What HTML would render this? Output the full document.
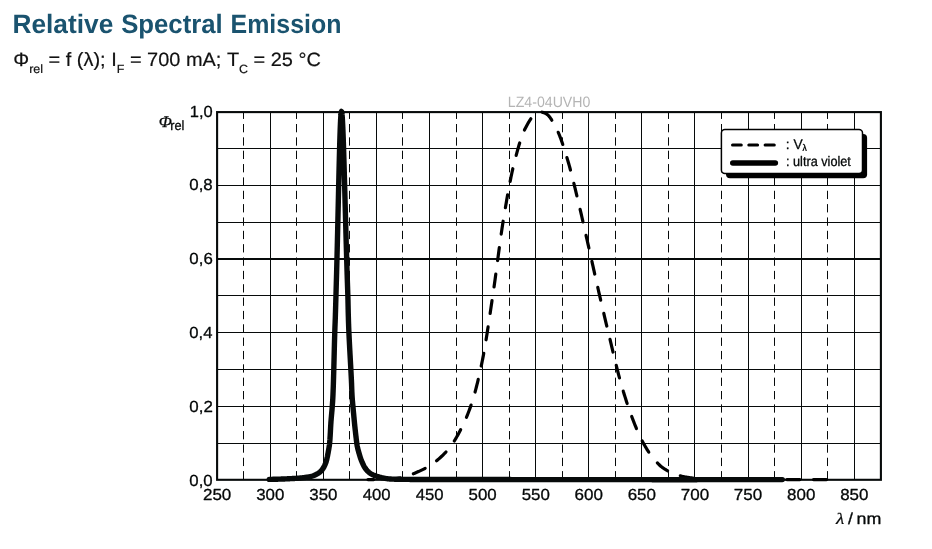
<!DOCTYPE html>
<html><head><meta charset="utf-8"><title>Relative Spectral Emission</title>
<style>
html,body{margin:0;padding:0;background:#fff;}
body{width:932px;height:549px;overflow:hidden;font-family:"Liberation Sans",sans-serif;}
svg{display:block;position:absolute;left:0;top:0;will-change:transform;}
</style></head><body>
<svg width="932" height="549" viewBox="0 0 932 549">
<g stroke="#070a0a" stroke-width="1" fill="none"><line x1="217.2" x2="880.85" y1="443.5" y2="443.5"/>
<line x1="217.2" x2="880.85" y1="406.5" y2="406.5"/>
<line x1="217.2" x2="880.85" y1="369.5" y2="369.5"/>
<line x1="217.2" x2="880.85" y1="332.5" y2="332.5"/>
<line x1="217.2" x2="880.85" y1="295.5" y2="295.5"/>
<line x1="217.2" x2="880.85" y1="259.0" y2="259.0" stroke-width="2"/>
<line x1="217.2" x2="880.85" y1="222.5" y2="222.5"/>
<line x1="217.2" x2="880.85" y1="185.5" y2="185.5"/>
<line x1="217.2" x2="880.85" y1="148.5" y2="148.5"/>
<line x1="243.5" x2="243.5" y1="112.1" y2="479.8" stroke-dasharray="8.3 5.05" stroke-dashoffset="1.45"/>
<line x1="270.5" x2="270.5" y1="112.1" y2="479.8"/>
<line x1="296.5" x2="296.5" y1="112.1" y2="479.8" stroke-dasharray="8.3 5.05" stroke-dashoffset="1.45"/>
<line x1="323.5" x2="323.5" y1="112.1" y2="479.8"/>
<line x1="349.5" x2="349.5" y1="112.1" y2="479.8" stroke-dasharray="8.3 5.05" stroke-dashoffset="1.45"/>
<line x1="376.5" x2="376.5" y1="112.1" y2="479.8"/>
<line x1="402.5" x2="402.5" y1="112.1" y2="479.8" stroke-dasharray="8.3 5.05" stroke-dashoffset="1.45"/>
<line x1="429.5" x2="429.5" y1="112.1" y2="479.8"/>
<line x1="456.5" x2="456.5" y1="112.1" y2="479.8" stroke-dasharray="8.3 5.05" stroke-dashoffset="1.45"/>
<line x1="482.5" x2="482.5" y1="112.1" y2="479.8"/>
<line x1="509.5" x2="509.5" y1="112.1" y2="479.8" stroke-dasharray="8.3 5.05" stroke-dashoffset="1.45"/>
<line x1="535.5" x2="535.5" y1="112.1" y2="479.8"/>
<line x1="562.5" x2="562.5" y1="112.1" y2="479.8" stroke-dasharray="8.3 5.05" stroke-dashoffset="1.45"/>
<line x1="588.5" x2="588.5" y1="112.1" y2="479.8"/>
<line x1="615.5" x2="615.5" y1="112.1" y2="479.8" stroke-dasharray="8.3 5.05" stroke-dashoffset="1.45"/>
<line x1="641.5" x2="641.5" y1="112.1" y2="479.8"/>
<line x1="668.5" x2="668.5" y1="112.1" y2="479.8" stroke-dasharray="8.3 5.05" stroke-dashoffset="1.45"/>
<line x1="694.5" x2="694.5" y1="112.1" y2="479.8"/>
<line x1="721.5" x2="721.5" y1="112.1" y2="479.8" stroke-dasharray="8.3 5.05" stroke-dashoffset="1.45"/>
<line x1="748.5" x2="748.5" y1="112.1" y2="479.8"/>
<line x1="774.5" x2="774.5" y1="112.1" y2="479.8" stroke-dasharray="8.3 5.05" stroke-dashoffset="1.45"/>
<line x1="801.5" x2="801.5" y1="112.1" y2="479.8"/>
<line x1="827.5" x2="827.5" y1="112.1" y2="479.8" stroke-dasharray="8.3 5.05" stroke-dashoffset="1.45"/>
<line x1="854.5" x2="854.5" y1="112.1" y2="479.8"/>
<rect x="217.1" y="112.1" width="663.8000000000001" height="367.70000000000005" fill="none" stroke-width="2.1"/></g>
<g fill="none" stroke="#000" stroke-width="3.2" stroke-linecap="round" stroke-linejoin="round"><path d="M367.98,479.60 L368.51,479.60 L369.04,479.60 L369.57,479.60 L370.10,479.60 L370.64,479.60 L371.17,479.60 L371.70,479.60 L372.23,479.60 L372.76,479.60 L373.29,479.60 L373.67,479.60"/><path d="M387.36,479.35 L387.63,479.33 L388.16,479.31 L388.69,479.28 L389.22,479.24 L389.75,479.20 L390.28,479.16 L390.81,479.12 L391.34,479.07 L391.87,479.03 L392.40,478.97 L392.93,478.92 L393.47,478.86 L394.00,478.81 L394.53,478.74 L395.06,478.68 L395.59,478.61 L396.12,478.55 L396.65,478.48 L397.18,478.40 L397.71,478.33 L398.24,478.25 L398.77,478.16 L399.31,478.06 L399.84,477.95 L400.27,477.86"/><path d="M413.32,473.74 L413.64,473.62 L414.17,473.40 L414.70,473.18 L415.23,472.96 L415.76,472.74 L416.30,472.51 L416.83,472.28 L417.36,472.05 L417.89,471.82 L418.42,471.58 L418.95,471.34 L419.48,471.10 L420.01,470.86 L420.54,470.62 L421.07,470.37 L421.60,470.12 L422.14,469.86 L422.67,469.61 L423.20,469.35 L423.73,469.08 L424.26,468.81 L424.79,468.54 L425.14,468.35"/><path d="M436.55,460.81 L436.98,460.46 L437.50,460.03 L438.03,459.58 L438.55,459.13 L439.07,458.67 L439.60,458.21 L440.12,457.74 L440.65,457.26 L441.17,456.78 L441.70,456.28 L442.22,455.78 L442.75,455.28 L443.27,454.76 L443.80,454.23 L444.32,453.69 L444.85,453.15 L445.37,452.59 L445.90,452.02 L446.00,451.90"/><path d="M454.28,441.01 L454.30,440.98 L454.83,440.13 L455.35,439.27 L455.88,438.39 L456.40,437.49 L456.93,436.57 L457.46,435.64 L457.98,434.69 L458.51,433.73 L459.03,432.75 L459.56,431.75 L460.09,430.75 L460.61,429.72 L460.64,429.67"/><path d="M466.45,417.27 L466.94,416.11 L467.46,414.82 L467.99,413.50 L468.52,412.15 L469.05,410.77 L469.57,409.35 L470.10,407.90 L470.63,406.41 L471.07,405.12"/><path d="M475.06,392.02 L475.38,390.82 L475.91,388.82 L476.44,386.77 L476.97,384.66 L477.50,382.51 L478.03,380.30 L478.24,379.41"/><path d="M481.22,366.04 L481.74,363.59 L482.26,361.03 L482.79,358.39 L483.32,355.64 L483.76,353.29"/><path d="M486.07,339.79 L486.51,337.10 L487.04,333.75 L487.57,330.34 L488.09,326.95"/><path d="M490.13,313.40 L490.23,312.73 L490.76,309.14 L491.29,305.55 L491.82,301.97 L492.03,300.54"/><path d="M494.03,286.99 L494.48,283.78 L495.01,279.93 L495.54,276.02 L495.80,274.11"/><path d="M497.61,260.53 L497.67,260.02 L498.21,256.00 L498.74,251.99 L499.27,248.01 L499.32,247.64"/><path d="M501.20,234.07 L501.41,232.63 L501.94,228.99 L502.47,225.45 L503.01,222.03 L503.14,221.21"/><path d="M505.39,207.70 L505.68,206.02 L506.21,202.91 L506.74,199.84 L507.28,196.81 L507.62,194.89"/><path d="M510.14,181.43 L510.49,179.69 L511.02,177.05 L511.56,174.48 L512.09,171.99 L512.63,169.57 L512.83,168.71"/><path d="M516.16,155.42 L516.37,154.60 L516.91,152.61 L517.45,150.65 L517.98,148.74 L518.52,146.87 L519.05,145.04 L519.59,143.27 L519.70,142.91"/><path d="M524.43,130.07 L524.95,129.01 L525.49,127.98 L526.03,126.95 L526.56,125.94 L527.10,124.95 L527.64,123.99 L528.17,123.04 L528.71,122.12 L529.25,121.24 L529.78,120.38 L530.32,119.56 L530.86,118.78 L530.86,118.78"/><path d="M542.12,112.20 L542.65,112.32 L543.18,112.48 L543.72,112.67 L544.25,112.89 L544.78,113.13 L545.31,113.39 L545.84,113.66 L546.37,113.94 L546.90,114.26 L547.43,114.65 L547.96,115.11 L548.49,115.63 L549.03,116.22 L549.56,116.87 L550.09,117.57 L550.62,118.32 L551.15,119.11 L551.68,119.95 L551.83,120.20"/><path d="M558.21,132.32 L558.58,133.16 L559.11,134.42 L559.64,135.74 L560.17,137.11 L560.71,138.53 L561.24,140.00 L561.77,141.50 L562.30,143.05 L562.78,144.48"/><path d="M566.89,157.55 L567.08,158.15 L567.61,159.90 L568.14,161.68 L568.67,163.50 L569.20,165.37 L569.73,167.29 L570.26,169.25 L570.47,170.05"/><path d="M573.84,183.33 L573.98,183.87 L574.51,186.05 L575.04,188.24 L575.57,190.44 L576.10,192.64 L576.63,194.85 L576.90,195.96"/><path d="M580.09,209.28 L580.35,210.38 L580.88,212.66 L581.41,214.96 L581.94,217.26 L582.47,219.59 L583.00,221.92 L583.01,221.95"/><path d="M586.03,235.32 L586.19,236.03 L586.72,238.39 L587.25,240.74 L587.78,243.10 L588.31,245.44 L588.84,247.78 L588.89,248.00"/><path d="M591.90,261.36 L592.03,261.92 L592.56,264.29 L593.09,266.66 L593.62,269.04 L594.15,271.41 L594.68,273.78 L594.74,274.05"/><path d="M597.76,287.41 L597.87,287.90 L598.40,290.23 L598.93,292.54 L599.46,294.85 L599.99,297.14 L600.52,299.43 L600.68,300.08"/><path d="M603.80,313.42 L604.24,315.31 L604.77,317.55 L605.30,319.79 L605.83,322.03 L606.36,324.26 L606.80,326.07"/><path d="M610.00,339.39 L610.08,339.71 L610.61,341.90 L611.14,344.11 L611.67,346.32 L612.20,348.55 L612.74,350.77 L613.03,352.03"/><path d="M616.25,365.35 L616.45,366.18 L616.98,368.31 L617.51,370.42 L618.04,372.50 L618.58,374.55 L619.11,376.57 L619.48,377.94"/><path d="M623.26,391.11 L623.35,391.44 L623.88,393.19 L624.42,394.93 L624.95,396.64 L625.48,398.33 L626.01,400.00 L626.54,401.65 L627.07,403.28 L627.15,403.51"/><path d="M631.69,416.44 L631.85,416.87 L632.38,418.28 L632.91,419.67 L633.44,421.05 L633.97,422.42 L634.50,423.77 L635.03,425.10 L635.56,426.42 L636.10,427.72 L636.44,428.54"/><path d="M642.20,440.96 L642.47,441.46 L643.00,442.45 L643.53,443.42 L644.06,444.38 L644.59,445.32 L645.12,446.25 L645.65,447.16 L646.18,448.06 L646.71,448.94 L647.25,449.80 L647.78,450.64 L648.31,451.47 L648.77,452.17"/><path d="M657.32,462.86 L657.33,462.88 L657.86,463.43 L658.39,463.97 L658.93,464.49 L659.46,465.00 L659.99,465.49 L660.52,465.96 L661.05,466.41 L661.58,466.85 L662.11,467.26 L662.64,467.66 L663.17,468.03 L663.70,468.39 L664.23,468.74 L664.77,469.08 L665.30,469.41 L665.83,469.73 L666.36,470.04 L666.89,470.34 L667.42,470.63 L667.59,470.72"/><path d="M680.29,475.78 L680.69,475.89 L681.22,476.04 L681.76,476.18 L682.29,476.32 L682.82,476.44 L683.35,476.56 L683.88,476.68 L684.41,476.78 L684.94,476.89 L685.47,476.98 L686.00,477.08 L686.53,477.17 L687.06,477.26 L687.60,477.35 L688.13,477.44 L688.66,477.52 L689.19,477.60 L689.72,477.67 L690.25,477.75 L690.78,477.82 L691.31,477.89 L691.84,477.95 L692.37,478.01 L692.90,478.07 L693.07,478.09"/><path d="M706.73,479.08 L707.24,479.10 L707.77,479.12 L708.30,479.15 L708.83,479.17 L709.36,479.19 L709.89,479.21 L710.42,479.23 L710.96,479.25 L711.49,479.27 L712.02,479.29 L712.55,479.31 L713.08,479.32 L713.61,479.34 L714.14,479.36 L714.67,479.37 L715.20,479.39 L715.73,479.40 L716.26,479.41 L716.80,479.43 L717.33,479.44 L717.86,479.45 L718.39,479.46 L718.92,479.47 L719.45,479.49 L719.73,479.49"/><path d="M733.43,479.60 L733.79,479.60 L734.32,479.60 L734.85,479.60 L735.38,479.60 L735.91,479.60 L736.44,479.60 L736.97,479.60 L737.50,479.60 L738.03,479.60 L738.56,479.60 L739.09,479.60 L739.63,479.60 L740.16,479.60 L740.69,479.60 L741.22,479.60 L741.75,479.60 L742.28,479.60 L742.81,479.60 L743.34,479.60 L743.87,479.60 L744.40,479.60 L744.93,479.60 L745.47,479.60 L746.00,479.60 L746.43,479.60"/><path d="M760.13,479.60 L760.33,479.60 L760.86,479.60 L761.39,479.60 L761.92,479.60 L762.45,479.60 L762.99,479.60 L763.52,479.60 L764.05,479.60 L764.58,479.60 L765.11,479.60 L765.64,479.60 L766.17,479.60 L766.70,479.60 L767.23,479.60 L767.76,479.60 L768.29,479.60 L768.83,479.60 L769.36,479.60 L769.89,479.60 L770.42,479.60 L770.95,479.60 L771.48,479.60 L772.01,479.60 L772.54,479.60 L773.07,479.60 L773.13,479.60"/><path d="M786.83,479.60 L786.88,479.60 L787.41,479.60 L787.94,479.60 L788.47,479.60 L789.00,479.60 L789.53,479.60 L790.06,479.60 L790.59,479.60 L791.12,479.60 L791.66,479.60 L792.19,479.60 L792.72,479.60 L793.25,479.60 L793.78,479.60 L794.31,479.60 L794.84,479.60 L795.37,479.60 L795.90,479.60 L796.43,479.60 L796.96,479.60 L797.50,479.60 L798.03,479.60 L798.56,479.60 L799.09,479.60 L799.62,479.60 L799.83,479.60"/><path d="M813.53,479.60 L813.95,479.60 L814.49,479.60 L815.02,479.60 L815.55,479.60 L816.08,479.60 L816.61,479.60 L817.14,479.60 L817.67,479.60 L818.20,479.60 L818.73,479.60 L819.26,479.60 L819.79,479.60 L820.33,479.60 L820.86,479.60 L821.39,479.60 L821.92,479.60 L822.45,479.60 L822.98,479.60 L823.51,479.60 L824.04,479.60 L824.57,479.60 L825.10,479.60 L825.63,479.60 L826.17,479.60 L826.53,479.60"/></g>
<path d="M269.30,479.40 L270.00,479.39 L270.70,479.37 L271.40,479.36 L272.10,479.34 L272.80,479.32 L273.50,479.30 L274.20,479.29 L274.90,479.27 L275.60,479.24 L276.30,479.22 L277.00,479.20 L277.69,479.18 L278.39,479.16 L279.09,479.13 L279.79,479.11 L280.49,479.09 L281.19,479.06 L281.89,479.04 L282.59,479.01 L283.29,478.99 L283.99,478.96 L284.69,478.94 L285.39,478.91 L286.09,478.88 L286.79,478.84 L287.48,478.81 L288.18,478.78 L288.88,478.74 L289.58,478.70 L290.28,478.66 L290.98,478.63 L291.68,478.59 L292.38,478.55 L293.08,478.51 L293.77,478.47 L294.47,478.43 L295.17,478.39 L295.87,478.35 L296.57,478.31 L297.27,478.27 L297.97,478.22 L298.66,478.17 L299.36,478.11 L300.06,478.05 L300.75,477.98 L301.45,477.91 L302.14,477.83 L302.84,477.75 L303.53,477.67 L304.23,477.58 L304.92,477.49 L305.61,477.39 L306.31,477.29 L307.00,477.19 L307.69,477.09 L308.39,476.98 L309.08,476.87 L309.77,476.75 L310.46,476.61 L311.13,476.44 L311.80,476.25 L312.46,476.03 L313.12,475.79 L313.77,475.53 L314.41,475.25 L315.06,474.96 L315.70,474.65 L316.34,474.33 L316.98,474.00 L317.60,473.66 L318.20,473.29 L318.78,472.91 L319.34,472.51 L319.89,472.07 L320.42,471.62 L320.93,471.13 L321.42,470.61 L321.89,470.06 L322.33,469.50 L322.75,468.93 L323.14,468.35 L323.51,467.76 L323.85,467.16 L324.17,466.54 L324.48,465.91 L324.76,465.26 L325.03,464.61 L325.30,463.96 L325.56,463.31 L325.81,462.66 L326.04,462.00 L326.25,461.33 L326.43,460.66 L326.60,459.98 L326.77,459.30 L326.93,458.62 L327.08,457.93 L327.24,457.25 L327.38,456.57 L327.53,455.88 L327.66,455.20 L327.79,454.51 L327.92,453.82 L328.05,453.13 L328.18,452.45 L328.30,451.76 L328.43,451.07 L328.55,450.38 L328.67,449.69 L328.79,449.00 L328.90,448.31 L329.02,447.62 L329.13,446.93 L329.24,446.24 L329.34,445.54 L329.44,444.85 L329.52,444.16 L329.59,443.46 L329.66,442.76 L329.72,442.07 L329.78,441.37 L329.84,440.67 L329.89,439.97 L329.95,439.27 L329.99,438.58 L330.04,437.88 L330.09,437.18 L330.13,436.48 L330.17,435.78 L330.21,435.08 L330.25,434.39 L330.29,433.69 L330.33,432.99 L330.37,432.29 L330.40,431.59 L330.44,430.89 L330.47,430.19 L330.51,429.49 L330.55,428.79 L330.58,428.10 L330.62,427.40 L330.66,426.70 L330.70,426.00 L330.74,425.30 L330.78,424.60 L330.82,423.90 L330.87,423.21 L330.91,422.51 L330.96,421.81 L331.01,421.11 L331.07,420.41 L331.12,419.72 L331.18,419.02 L331.24,418.32 L331.30,417.62 L331.36,416.93 L331.42,416.23 L331.48,415.53 L331.55,414.84 L331.61,414.14 L331.67,413.44 L331.73,412.74 L331.80,412.05 L331.86,411.35 L331.92,410.65 L331.98,409.96 L332.04,409.26 L332.10,408.56 L332.15,407.86 L332.21,407.17 L332.26,406.47 L332.32,405.77 L332.37,405.07 L332.42,404.37 L332.47,403.68 L332.52,402.98 L332.57,402.28 L332.61,401.58 L332.66,400.88 L332.70,400.19 L332.74,399.49 L332.78,398.79 L332.82,398.09 L332.85,397.39 L332.89,396.69 L332.92,395.99 L332.95,395.29 L332.98,394.59 L333.01,393.89 L333.04,393.20 L333.06,392.50 L333.09,391.80 L333.12,391.10 L333.15,390.40 L333.17,389.70 L333.20,389.00 L333.23,388.30 L333.25,387.60 L333.28,386.90 L333.30,386.20 L333.32,385.50 L333.35,384.80 L333.37,384.10 L333.39,383.40 L333.42,382.71 L333.44,382.01 L333.46,381.31 L333.48,380.61 L333.50,379.91 L333.52,379.21 L333.54,378.51 L333.56,377.81 L333.58,377.11 L333.60,376.41 L333.62,375.71 L333.64,375.01 L333.66,374.31 L333.68,373.61 L333.70,372.91 L333.72,372.21 L333.74,371.51 L333.76,370.81 L333.78,370.11 L333.79,369.41 L333.81,368.71 L333.83,368.01 L333.85,367.32 L333.87,366.62 L333.88,365.92 L333.90,365.22 L333.92,364.52 L333.94,363.82 L333.96,363.12 L333.97,362.42 L333.99,361.72 L334.01,361.02 L334.03,360.32 L334.04,359.62 L334.06,358.92 L334.08,358.22 L334.10,357.52 L334.11,356.82 L334.13,356.12 L334.15,355.42 L334.17,354.72 L334.18,354.02 L334.20,353.32 L334.22,352.62 L334.24,351.92 L334.25,351.22 L334.27,350.53 L334.29,349.83 L334.31,349.13 L334.32,348.43 L334.34,347.73 L334.36,347.03 L334.38,346.33 L334.40,345.63 L334.42,344.93 L334.43,344.23 L334.45,343.53 L334.47,342.83 L334.49,342.13 L334.51,341.43 L334.53,340.73 L334.55,340.03 L334.57,339.33 L334.59,338.63 L334.61,337.93 L334.63,337.23 L334.65,336.53 L334.67,335.83 L334.69,335.14 L334.71,334.44 L334.73,333.74 L334.75,333.04 L334.78,332.34 L334.80,331.64 L334.82,330.94 L334.84,330.24 L334.87,329.54 L334.89,328.84 L334.91,328.14 L334.94,327.44 L334.97,326.74 L334.99,326.04 L335.02,325.34 L335.05,324.64 L335.07,323.95 L335.10,323.25 L335.13,322.55 L335.16,321.85 L335.18,321.15 L335.21,320.45 L335.24,319.75 L335.26,319.05 L335.29,318.35 L335.32,317.65 L335.34,316.95 L335.36,316.25 L335.38,315.55 L335.40,314.85 L335.42,314.15 L335.44,313.45 L335.46,312.76 L335.49,312.06 L335.51,311.36 L335.53,310.66 L335.55,309.96 L335.57,309.26 L335.59,308.56 L335.61,307.86 L335.63,307.16 L335.65,306.46 L335.67,305.76 L335.69,305.06 L335.71,304.36 L335.73,303.66 L335.75,302.96 L335.77,302.26 L335.79,301.56 L335.81,300.86 L335.83,300.16 L335.85,299.46 L335.87,298.76 L335.89,298.07 L335.91,297.37 L335.93,296.67 L335.95,295.97 L335.97,295.27 L335.99,294.57 L336.01,293.87 L336.03,293.17 L336.05,292.47 L336.07,291.77 L336.09,291.07 L336.11,290.37 L336.13,289.67 L336.15,288.97 L336.17,288.27 L336.19,287.57 L336.21,286.87 L336.23,286.17 L336.25,285.47 L336.27,284.77 L336.29,284.07 L336.31,283.38 L336.33,282.68 L336.35,281.98 L336.37,281.28 L336.39,280.58 L336.41,279.88 L336.43,279.18 L336.45,278.48 L336.47,277.78 L336.49,277.08 L336.51,276.38 L336.53,275.68 L336.55,274.98 L336.57,274.28 L336.59,273.58 L336.61,272.88 L336.63,272.18 L336.64,271.48 L336.66,270.78 L336.68,270.08 L336.70,269.38 L336.72,268.69 L336.74,267.99 L336.75,267.29 L336.77,266.59 L336.79,265.89 L336.81,265.19 L336.83,264.49 L336.84,263.79 L336.86,263.09 L336.88,262.39 L336.90,261.69 L336.91,260.99 L336.93,260.29 L336.95,259.59 L336.97,258.89 L336.98,258.19 L337.00,257.49 L337.02,256.79 L337.04,256.09 L337.05,255.39 L337.07,254.69 L337.09,253.99 L337.11,253.29 L337.12,252.59 L337.14,251.90 L337.16,251.20 L337.18,250.50 L337.19,249.80 L337.21,249.10 L337.23,248.40 L337.24,247.70 L337.26,247.00 L337.28,246.30 L337.30,245.60 L337.31,244.90 L337.33,244.20 L337.35,243.50 L337.36,242.80 L337.38,242.10 L337.40,241.40 L337.41,240.70 L337.43,240.00 L337.45,239.30 L337.46,238.60 L337.48,237.90 L337.50,237.20 L337.51,236.50 L337.53,235.80 L337.55,235.10 L337.56,234.40 L337.58,233.71 L337.60,233.01 L337.61,232.31 L337.63,231.61 L337.64,230.91 L337.66,230.21 L337.68,229.51 L337.69,228.81 L337.71,228.11 L337.73,227.41 L337.74,226.71 L337.76,226.01 L337.77,225.31 L337.79,224.61 L337.81,223.91 L337.82,223.21 L337.84,222.51 L337.85,221.81 L337.87,221.11 L337.89,220.41 L337.90,219.71 L337.92,219.01 L337.93,218.31 L337.95,217.61 L337.97,216.91 L337.98,216.21 L338.00,215.52 L338.01,214.82 L338.03,214.12 L338.05,213.42 L338.06,212.72 L338.08,212.02 L338.09,211.32 L338.11,210.62 L338.13,209.92 L338.14,209.22 L338.16,208.52 L338.17,207.82 L338.19,207.12 L338.21,206.42 L338.22,205.72 L338.24,205.02 L338.25,204.32 L338.27,203.62 L338.28,202.92 L338.30,202.22 L338.32,201.52 L338.33,200.82 L338.35,200.12 L338.36,199.42 L338.38,198.72 L338.40,198.02 L338.41,197.33 L338.43,196.63 L338.44,195.93 L338.46,195.23 L338.48,194.53 L338.49,193.83 L338.51,193.13 L338.52,192.43 L338.54,191.73 L338.56,191.03 L338.57,190.33 L338.59,189.63 L338.60,188.93 L338.62,188.23 L338.64,187.53 L338.65,186.83 L338.67,186.13 L338.68,185.43 L338.70,184.73 L338.72,184.03 L338.73,183.33 L338.75,182.63 L338.76,181.93 L338.78,181.23 L338.80,180.53 L338.81,179.83 L338.83,179.13 L338.85,178.44 L338.86,177.74 L338.88,177.04 L338.89,176.34 L338.91,175.64 L338.93,174.94 L338.94,174.24 L338.96,173.54 L338.98,172.84 L338.99,172.14 L339.01,171.44 L339.03,170.74 L339.04,170.04 L339.06,169.34 L339.08,168.64 L339.09,167.94 L339.11,167.24 L339.13,166.54 L339.15,165.84 L339.16,165.14 L339.18,164.44 L339.20,163.74 L339.22,163.04 L339.23,162.34 L339.25,161.64 L339.27,160.95 L339.29,160.25 L339.30,159.55 L339.32,158.85 L339.34,158.15 L339.36,157.45 L339.37,156.75 L339.39,156.05 L339.41,155.35 L339.43,154.65 L339.45,153.95 L339.47,153.25 L339.48,152.55 L339.50,151.85 L339.52,151.15 L339.54,150.45 L339.56,149.75 L339.58,149.05 L339.60,148.35 L339.62,147.65 L339.64,146.95 L339.66,146.25 L339.68,145.55 L339.70,144.86 L339.72,144.16 L339.74,143.46 L339.76,142.76 L339.78,142.06 L339.80,141.36 L339.82,140.66 L339.84,139.96 L339.86,139.26 L339.88,138.56 L339.91,137.86 L339.93,137.16 L339.95,136.46 L339.97,135.76 L340.00,135.06 L340.02,134.36 L340.04,133.66 L340.07,132.96 L340.09,132.27 L340.12,131.57 L340.14,130.87 L340.17,130.17 L340.19,129.47 L340.22,128.77 L340.24,128.07 L340.27,127.37 L340.30,126.67 L340.33,125.97 L340.36,125.27 L340.39,124.57 L340.42,123.87 L340.45,123.17 L340.48,122.48 L340.52,121.78 L340.55,121.08 L340.58,120.38 L340.62,119.68 L340.66,118.98 L340.70,118.28 L340.74,117.58 L340.79,116.89 L340.84,116.19 L340.88,115.49 L340.93,114.79 L340.96,114.09 L341.01,113.40 L341.13,112.70 L341.32,111.90 L341.51,111.40 L341.71,112.02 L341.90,112.80 L342.00,113.49 L342.06,114.19 L342.09,114.89 L342.14,115.58 L342.19,116.28 L342.24,116.98 L342.29,117.68 L342.34,118.38 L342.38,119.07 L342.42,119.77 L342.46,120.47 L342.50,121.17 L342.53,121.87 L342.57,122.57 L342.60,123.27 L342.64,123.97 L342.67,124.67 L342.71,125.36 L342.74,126.06 L342.77,126.76 L342.80,127.46 L342.83,128.16 L342.86,128.86 L342.89,129.56 L342.92,130.26 L342.95,130.96 L342.97,131.66 L343.00,132.36 L343.03,133.06 L343.05,133.76 L343.08,134.45 L343.11,135.15 L343.13,135.85 L343.16,136.55 L343.19,137.25 L343.21,137.95 L343.24,138.65 L343.26,139.35 L343.29,140.05 L343.31,140.75 L343.33,141.45 L343.36,142.15 L343.38,142.85 L343.40,143.55 L343.43,144.25 L343.45,144.95 L343.47,145.64 L343.50,146.34 L343.52,147.04 L343.54,147.74 L343.56,148.44 L343.59,149.14 L343.61,149.84 L343.63,150.54 L343.65,151.24 L343.67,151.94 L343.70,152.64 L343.72,153.34 L343.74,154.04 L343.76,154.74 L343.78,155.44 L343.80,156.14 L343.82,156.84 L343.84,157.54 L343.87,158.23 L343.89,158.93 L343.91,159.63 L343.93,160.33 L343.95,161.03 L343.97,161.73 L343.99,162.43 L344.01,163.13 L344.03,163.83 L344.05,164.53 L344.07,165.23 L344.09,165.93 L344.11,166.63 L344.13,167.33 L344.15,168.03 L344.17,168.73 L344.19,169.43 L344.21,170.13 L344.23,170.83 L344.25,171.53 L344.27,172.23 L344.29,172.92 L344.31,173.62 L344.33,174.32 L344.35,175.02 L344.37,175.72 L344.39,176.42 L344.41,177.12 L344.43,177.82 L344.45,178.52 L344.47,179.22 L344.49,179.92 L344.51,180.62 L344.52,181.32 L344.54,182.02 L344.56,182.72 L344.58,183.42 L344.60,184.12 L344.62,184.82 L344.64,185.52 L344.66,186.22 L344.68,186.92 L344.70,187.62 L344.72,188.31 L344.73,189.01 L344.75,189.71 L344.77,190.41 L344.79,191.11 L344.81,191.81 L344.83,192.51 L344.85,193.21 L344.87,193.91 L344.89,194.61 L344.90,195.31 L344.92,196.01 L344.94,196.71 L344.96,197.41 L344.98,198.11 L345.00,198.81 L345.02,199.51 L345.04,200.21 L345.06,200.91 L345.08,201.61 L345.09,202.31 L345.11,203.01 L345.13,203.70 L345.15,204.40 L345.17,205.10 L345.19,205.80 L345.21,206.50 L345.23,207.20 L345.25,207.90 L345.27,208.60 L345.28,209.30 L345.30,210.00 L345.32,210.70 L345.34,211.40 L345.36,212.10 L345.38,212.80 L345.40,213.50 L345.42,214.20 L345.44,214.90 L345.46,215.60 L345.47,216.30 L345.49,217.00 L345.51,217.70 L345.53,218.40 L345.55,219.09 L345.57,219.79 L345.59,220.49 L345.61,221.19 L345.63,221.89 L345.64,222.59 L345.66,223.29 L345.68,223.99 L345.70,224.69 L345.72,225.39 L345.74,226.09 L345.76,226.79 L345.78,227.49 L345.80,228.19 L345.82,228.89 L345.84,229.59 L345.86,230.29 L345.88,230.99 L345.89,231.69 L345.91,232.39 L345.93,233.09 L345.95,233.79 L345.97,234.48 L345.99,235.18 L346.01,235.88 L346.03,236.58 L346.05,237.28 L346.07,237.98 L346.09,238.68 L346.11,239.38 L346.13,240.08 L346.15,240.78 L346.17,241.48 L346.19,242.18 L346.21,242.88 L346.23,243.58 L346.25,244.28 L346.27,244.98 L346.29,245.68 L346.31,246.38 L346.33,247.08 L346.35,247.78 L346.37,248.48 L346.39,249.17 L346.41,249.87 L346.43,250.57 L346.45,251.27 L346.47,251.97 L346.49,252.67 L346.51,253.37 L346.53,254.07 L346.55,254.77 L346.57,255.47 L346.59,256.17 L346.61,256.87 L346.63,257.57 L346.65,258.27 L346.67,258.97 L346.70,259.67 L346.72,260.37 L346.74,261.07 L346.76,261.77 L346.78,262.47 L346.80,263.16 L346.82,263.86 L346.84,264.56 L346.86,265.26 L346.88,265.96 L346.91,266.66 L346.93,267.36 L346.95,268.06 L346.97,268.76 L346.99,269.46 L347.01,270.16 L347.04,270.86 L347.06,271.56 L347.08,272.26 L347.10,272.96 L347.12,273.66 L347.14,274.36 L347.17,275.06 L347.19,275.76 L347.21,276.45 L347.23,277.15 L347.25,277.85 L347.27,278.55 L347.30,279.25 L347.32,279.95 L347.34,280.65 L347.37,281.35 L347.39,282.05 L347.41,282.75 L347.44,283.45 L347.46,284.15 L347.48,284.85 L347.51,285.55 L347.53,286.25 L347.55,286.95 L347.58,287.65 L347.60,288.35 L347.63,289.04 L347.65,289.74 L347.67,290.44 L347.70,291.14 L347.72,291.84 L347.74,292.54 L347.76,293.24 L347.79,293.94 L347.81,294.64 L347.83,295.34 L347.85,296.04 L347.88,296.74 L347.90,297.44 L347.92,298.14 L347.93,298.84 L347.95,299.54 L347.97,300.24 L347.99,300.94 L348.00,301.64 L348.02,302.33 L348.03,303.03 L348.05,303.73 L348.06,304.43 L348.08,305.13 L348.09,305.83 L348.11,306.53 L348.12,307.23 L348.14,307.93 L348.15,308.63 L348.17,309.33 L348.18,310.03 L348.20,310.73 L348.21,311.43 L348.23,312.13 L348.24,312.83 L348.26,313.53 L348.28,314.23 L348.30,314.93 L348.32,315.63 L348.34,316.33 L348.36,317.03 L348.38,317.73 L348.40,318.43 L348.42,319.13 L348.44,319.83 L348.46,320.52 L348.48,321.22 L348.50,321.92 L348.52,322.62 L348.55,323.32 L348.57,324.02 L348.60,324.72 L348.62,325.42 L348.65,326.12 L348.67,326.82 L348.70,327.52 L348.73,328.22 L348.75,328.92 L348.78,329.62 L348.81,330.32 L348.84,331.01 L348.87,331.71 L348.91,332.41 L348.94,333.11 L348.97,333.81 L349.00,334.51 L349.03,335.21 L349.07,335.91 L349.10,336.61 L349.13,337.31 L349.17,338.01 L349.20,338.70 L349.24,339.40 L349.27,340.10 L349.31,340.80 L349.34,341.50 L349.38,342.20 L349.41,342.90 L349.45,343.60 L349.49,344.30 L349.52,344.99 L349.56,345.69 L349.60,346.39 L349.63,347.09 L349.67,347.79 L349.71,348.49 L349.74,349.19 L349.78,349.89 L349.82,350.59 L349.86,351.28 L349.90,351.98 L349.93,352.68 L349.97,353.38 L350.01,354.08 L350.05,354.78 L350.09,355.48 L350.13,356.18 L350.16,356.87 L350.20,357.57 L350.24,358.27 L350.28,358.97 L350.32,359.67 L350.36,360.37 L350.40,361.07 L350.43,361.77 L350.47,362.46 L350.51,363.16 L350.55,363.86 L350.59,364.56 L350.63,365.26 L350.67,365.96 L350.70,366.66 L350.74,367.36 L350.78,368.05 L350.82,368.75 L350.85,369.45 L350.89,370.15 L350.93,370.85 L350.97,371.55 L351.00,372.25 L351.04,372.95 L351.08,373.64 L351.11,374.34 L351.15,375.04 L351.19,375.74 L351.22,376.44 L351.26,377.14 L351.29,377.84 L351.33,378.54 L351.36,379.24 L351.40,379.93 L351.43,380.63 L351.46,381.33 L351.49,382.03 L351.52,382.73 L351.55,383.43 L351.58,384.13 L351.60,384.83 L351.63,385.53 L351.65,386.23 L351.68,386.93 L351.70,387.63 L351.73,388.33 L351.75,389.03 L351.78,389.72 L351.81,390.42 L351.83,391.12 L351.86,391.82 L351.89,392.52 L351.93,393.22 L351.96,393.92 L352.00,394.62 L352.04,395.32 L352.08,396.02 L352.12,396.71 L352.17,397.41 L352.22,398.11 L352.27,398.81 L352.33,399.51 L352.38,400.20 L352.44,400.90 L352.50,401.60 L352.56,402.29 L352.63,402.99 L352.69,403.69 L352.75,404.39 L352.82,405.08 L352.88,405.78 L352.94,406.48 L353.01,407.17 L353.07,407.87 L353.13,408.57 L353.20,409.26 L353.26,409.96 L353.33,410.66 L353.39,411.36 L353.45,412.05 L353.52,412.75 L353.58,413.45 L353.65,414.14 L353.71,414.84 L353.78,415.54 L353.85,416.23 L353.91,416.93 L353.98,417.63 L354.04,418.32 L354.11,419.02 L354.17,419.72 L354.24,420.41 L354.31,421.11 L354.37,421.81 L354.44,422.50 L354.51,423.20 L354.58,423.90 L354.65,424.59 L354.72,425.29 L354.79,425.98 L354.86,426.68 L354.94,427.38 L355.01,428.07 L355.08,428.77 L355.16,429.46 L355.24,430.16 L355.31,430.85 L355.39,431.55 L355.47,432.24 L355.55,432.94 L355.62,433.63 L355.70,434.33 L355.78,435.02 L355.87,435.72 L355.95,436.42 L356.03,437.11 L356.11,437.81 L356.20,438.50 L356.28,439.20 L356.36,439.89 L356.45,440.58 L356.53,441.28 L356.62,441.97 L356.71,442.67 L356.80,443.36 L356.89,444.06 L357.00,444.75 L357.11,445.44 L357.24,446.12 L357.38,446.81 L357.53,447.49 L357.69,448.17 L357.85,448.85 L358.02,449.53 L358.20,450.21 L358.38,450.88 L358.57,451.56 L358.76,452.24 L358.95,452.91 L359.15,453.59 L359.34,454.26 L359.54,454.94 L359.73,455.61 L359.93,456.29 L360.14,456.96 L360.36,457.62 L360.59,458.28 L360.82,458.94 L361.07,459.59 L361.32,460.24 L361.58,460.89 L361.84,461.53 L362.11,462.18 L362.40,462.82 L362.68,463.46 L362.98,464.10 L363.28,464.74 L363.59,465.38 L363.91,466.01 L364.25,466.63 L364.60,467.23 L364.97,467.82 L365.36,468.39 L365.76,468.96 L366.19,469.51 L366.64,470.04 L367.11,470.57 L367.60,471.08 L368.12,471.58 L368.67,472.07 L369.23,472.54 L369.80,472.98 L370.38,473.39 L370.97,473.78 L371.57,474.14 L372.18,474.48 L372.79,474.80 L373.42,475.09 L374.06,475.37 L374.71,475.62 L375.37,475.86 L376.05,476.08 L376.72,476.29 L377.39,476.50 L378.06,476.70 L378.74,476.89 L379.41,477.08 L380.09,477.27 L380.76,477.44 L381.44,477.61 L382.12,477.77 L382.80,477.92 L383.48,478.07 L384.17,478.20 L384.86,478.33 L385.55,478.44 L386.24,478.55 L386.94,478.67 L387.63,478.77 L388.32,478.86 L389.02,478.93 L389.71,478.99 L390.41,479.02 L391.11,479.05 L391.81,479.08 L392.51,479.10 L393.21,479.13 L393.91,479.16 L394.61,479.18 L395.31,479.20 L396.01,479.23 L396.71,479.25 L397.41,479.27 L398.11,479.29 L398.81,479.31 L399.51,479.32 L400.21,479.34 L400.91,479.35 L401.61,479.36 L402.31,479.37 L403.01,479.38 L403.71,479.39 L404.40,479.40 L405.10,479.40 L405.80,479.40 L406.50,479.41 L407.20,479.41 L407.90,479.41 L408.60,479.42 L409.30,479.42 L410.00,479.43 L410.70,479.43 L411.40,479.43 L412.10,479.44 L412.80,479.44 L413.50,479.44 L414.20,479.45 L414.90,479.45 L415.60,479.45 L416.30,479.46 L417.00,479.46 L417.70,479.46 L418.40,479.47 L419.10,479.47 L419.80,479.47 L420.50,479.48 L421.20,479.48 L421.90,479.48 L422.60,479.48 L423.30,479.49 L424.00,479.49 L424.70,479.49 L425.40,479.49 L426.10,479.49 L426.80,479.50 L427.50,479.50 L428.20,479.50 L428.90,479.50 L429.60,479.50 L430.30,479.50 L431.00,479.50 L431.70,479.50 L432.40,479.50 L433.10,479.50 L433.80,479.50 L434.50,479.50 L435.20,479.50 L435.90,479.50 L436.60,479.51 L437.30,479.51 L438.00,479.51 L438.70,479.51 L439.40,479.51 L440.09,479.51 L440.79,479.51 L441.49,479.51 L442.19,479.51 L442.89,479.51 L443.59,479.51 L444.29,479.51 L444.99,479.51 L445.69,479.51 L446.39,479.51 L447.09,479.51 L447.79,479.52 L448.49,479.52 L449.19,479.52 L449.89,479.52 L450.59,479.52 L451.29,479.52 L451.99,479.52 L452.69,479.52 L453.39,479.52 L454.09,479.52 L454.79,479.52 L455.49,479.52 L456.19,479.52 L456.89,479.52 L457.59,479.52 L458.29,479.52 L458.99,479.53 L459.69,479.53 L460.39,479.53 L461.09,479.53 L461.79,479.53 L462.49,479.53 L463.19,479.53 L463.89,479.53 L464.59,479.53 L465.29,479.53 L465.99,479.53 L466.69,479.53 L467.39,479.53 L468.09,479.53 L468.79,479.53 L469.49,479.53 L470.19,479.54 L470.89,479.54 L471.59,479.54 L472.29,479.54 L472.99,479.54 L473.69,479.54 L474.39,479.54 L475.09,479.54 L475.78,479.54 L476.48,479.54 L477.18,479.54 L477.88,479.54 L478.58,479.54 L479.28,479.54 L479.98,479.54 L480.68,479.55 L481.38,479.55 L482.08,479.55 L482.78,479.55 L483.48,479.55 L484.18,479.55 L484.88,479.55 L485.58,479.55 L486.28,479.55 L486.98,479.55 L487.68,479.55 L488.38,479.55 L489.08,479.55 L489.78,479.55 L490.48,479.55 L491.18,479.56 L491.88,479.56 L492.58,479.56 L493.28,479.56 L493.98,479.56 L494.68,479.56 L495.38,479.56 L496.08,479.56 L496.78,479.56 L497.48,479.56 L498.18,479.56 L498.88,479.56 L499.58,479.56 L500.28,479.56 L500.98,479.57 L501.68,479.57 L502.38,479.57 L503.08,479.57 L503.78,479.57 L504.48,479.57 L505.18,479.57 L505.88,479.57 L506.58,479.57 L507.28,479.57 L507.98,479.57 L508.68,479.57 L509.38,479.57 L510.08,479.57 L510.78,479.57 L511.48,479.58 L512.17,479.58 L512.87,479.58 L513.57,479.58 L514.27,479.58 L514.97,479.58 L515.67,479.58 L516.37,479.58 L517.07,479.58 L517.77,479.58 L518.47,479.58 L519.17,479.58 L519.87,479.58 L520.57,479.58 L521.27,479.58 L521.97,479.59 L522.67,479.59 L523.37,479.59 L524.07,479.59 L524.77,479.59 L525.47,479.59 L526.17,479.59 L526.87,479.59 L527.57,479.59 L528.27,479.59 L528.97,479.59 L529.67,479.59 L530.37,479.59 L531.07,479.59 L531.77,479.59 L532.47,479.60 L533.17,479.60 L533.87,479.60 L534.57,479.60 L535.27,479.60 L535.97,479.60 L536.67,479.60 L537.37,479.60 L538.07,479.60 L538.77,479.60 L539.47,479.60 L540.17,479.60 L540.87,479.60 L541.57,479.60 L542.27,479.60 L542.97,479.61 L543.67,479.61 L544.37,479.61 L545.07,479.61 L545.77,479.61 L546.47,479.61 L547.17,479.61 L547.86,479.61 L548.56,479.61 L549.26,479.61 L549.96,479.61 L550.66,479.61 L551.36,479.61 L552.06,479.61 L552.76,479.61 L553.46,479.61 L554.16,479.62 L554.86,479.62 L555.56,479.62 L556.26,479.62 L556.96,479.62 L557.66,479.62 L558.36,479.62 L559.06,479.62 L559.76,479.62 L560.46,479.62 L561.16,479.62 L561.86,479.62 L562.56,479.62 L563.26,479.62 L563.96,479.62 L564.66,479.62 L565.36,479.62 L566.06,479.63 L566.76,479.63 L567.46,479.63 L568.16,479.63 L568.86,479.63 L569.56,479.63 L570.26,479.63 L570.96,479.63 L571.66,479.63 L572.36,479.63 L573.06,479.63 L573.76,479.63 L574.46,479.63 L575.16,479.63 L575.86,479.63 L576.56,479.63 L577.26,479.63 L577.96,479.64 L578.66,479.64 L579.36,479.64 L580.06,479.64 L580.76,479.64 L581.46,479.64 L582.16,479.64 L582.86,479.64 L583.55,479.64 L584.25,479.64 L584.95,479.64 L585.65,479.64 L586.35,479.64 L587.05,479.64 L587.75,479.64 L588.45,479.64 L589.15,479.64 L589.85,479.64 L590.55,479.64 L591.25,479.64 L591.95,479.65 L592.65,479.65 L593.35,479.65 L594.05,479.65 L594.75,479.65 L595.45,479.65 L596.15,479.65 L596.85,479.65 L597.55,479.65 L598.25,479.65 L598.95,479.65 L599.65,479.65 L600.35,479.65 L601.05,479.65 L601.75,479.65 L602.45,479.65 L603.15,479.65 L603.85,479.65 L604.55,479.65 L605.25,479.65 L605.95,479.65 L606.65,479.66 L607.35,479.66 L608.05,479.66 L608.75,479.66 L609.45,479.66 L610.15,479.66 L610.85,479.66 L611.55,479.66 L612.25,479.66 L612.95,479.66 L613.65,479.66 L614.35,479.66 L615.05,479.66 L615.75,479.66 L616.45,479.66 L617.15,479.66 L617.85,479.66 L618.55,479.66 L619.25,479.66 L619.94,479.66 L620.64,479.66 L621.34,479.66 L622.04,479.66 L622.74,479.66 L623.44,479.66 L624.14,479.66 L624.84,479.67 L625.54,479.67 L626.24,479.67 L626.94,479.67 L627.64,479.67 L628.34,479.67 L629.04,479.67 L629.74,479.67 L630.44,479.67 L631.14,479.67 L631.84,479.67 L632.54,479.67 L633.24,479.67 L633.94,479.67 L634.64,479.67 L635.34,479.67 L636.04,479.67 L636.74,479.67 L637.44,479.67 L638.14,479.67 L638.84,479.67 L639.54,479.67 L640.24,479.67 L640.94,479.67 L641.64,479.67 L642.34,479.67 L643.04,479.67 L643.74,479.67 L644.44,479.67 L645.14,479.67 L645.84,479.67 L646.54,479.67 L647.24,479.67 L647.94,479.67 L648.64,479.67 L649.34,479.67 L650.04,479.67 L650.74,479.67 L651.44,479.67 L652.14,479.68 L652.84,479.68 L653.54,479.68 L654.24,479.68 L654.94,479.68 L655.63,479.68 L656.33,479.68 L657.03,479.68 L657.73,479.68 L658.43,479.68 L659.13,479.68 L659.83,479.68 L660.53,479.68 L661.23,479.68 L661.93,479.68 L662.63,479.68 L663.33,479.68 L664.03,479.68 L664.73,479.68 L665.43,479.68 L666.13,479.68 L666.83,479.68 L667.53,479.68 L668.23,479.68 L668.93,479.68 L669.63,479.68 L670.33,479.68 L671.03,479.68 L671.73,479.68 L672.43,479.68 L673.13,479.68 L673.83,479.68 L674.53,479.68 L675.23,479.68 L675.93,479.68 L676.63,479.68 L677.33,479.68 L678.03,479.68 L678.73,479.68 L679.43,479.68 L680.13,479.68 L680.83,479.68 L681.53,479.68 L682.23,479.68 L682.93,479.68 L683.63,479.68 L684.33,479.68 L685.03,479.68 L685.73,479.68 L686.43,479.68 L687.13,479.68 L687.83,479.68 L688.53,479.68 L689.23,479.68 L689.93,479.68 L690.63,479.68 L691.33,479.68 L692.02,479.68 L692.72,479.68 L693.42,479.68 L694.12,479.68 L694.82,479.68 L695.52,479.68 L696.22,479.68 L696.92,479.68 L697.62,479.67 L698.32,479.67 L699.02,479.67 L699.72,479.67 L700.42,479.67 L701.12,479.67 L701.82,479.67 L702.52,479.67 L703.22,479.67 L703.92,479.67 L704.62,479.67 L705.32,479.67 L706.02,479.67 L706.72,479.67 L707.42,479.67 L708.12,479.67 L708.82,479.67 L709.52,479.67 L710.22,479.67 L710.92,479.67 L711.62,479.67 L712.32,479.67 L713.02,479.67 L713.72,479.67 L714.42,479.67 L715.12,479.67 L715.82,479.67 L716.52,479.67 L717.22,479.67 L717.92,479.67 L718.62,479.67 L719.32,479.67 L720.02,479.67 L720.72,479.67 L721.42,479.66 L722.12,479.66 L722.82,479.66 L723.52,479.66 L724.22,479.66 L724.92,479.66 L725.62,479.66 L726.32,479.66 L727.02,479.66 L727.71,479.66 L728.41,479.66 L729.11,479.66 L729.81,479.66 L730.51,479.66 L731.21,479.66 L731.91,479.66 L732.61,479.66 L733.31,479.66 L734.01,479.66 L734.71,479.66 L735.41,479.65 L736.11,479.65 L736.81,479.65 L737.51,479.65 L738.21,479.65 L738.91,479.65 L739.61,479.65 L740.31,479.65 L741.01,479.65 L741.71,479.65 L742.41,479.65 L743.11,479.65 L743.81,479.65 L744.51,479.65 L745.21,479.65 L745.91,479.65 L746.61,479.65 L747.31,479.64 L748.01,479.64 L748.71,479.64 L749.41,479.64 L750.11,479.64 L750.81,479.64 L751.51,479.64 L752.21,479.64 L752.91,479.64 L753.61,479.64 L754.31,479.64 L755.01,479.64 L755.71,479.64 L756.41,479.63 L757.11,479.63 L757.81,479.63 L758.51,479.63 L759.21,479.63 L759.91,479.63 L760.61,479.63 L761.31,479.63 L762.01,479.63 L762.71,479.63 L763.41,479.63 L764.10,479.63 L764.80,479.62 L765.50,479.62 L766.20,479.62 L766.90,479.62 L767.60,479.62 L768.30,479.62 L769.00,479.62 L769.70,479.62 L770.40,479.62 L771.10,479.62 L771.80,479.62 L772.50,479.61 L773.20,479.61 L773.90,479.61 L774.60,479.61 L775.30,479.61 L776.00,479.61 L776.70,479.61 L777.40,479.61 L778.10,479.61 L778.80,479.61 L779.50,479.60 L780.20,479.60 L780.90,479.60 L781.60,479.60 L782.30,479.60" fill="none" stroke="#070a0a" stroke-width="5.4" stroke-linecap="round" stroke-linejoin="round"/>
<rect x="726" y="134" width="141.1" height="44.2" rx="4" ry="4" fill="#000"/>
<rect x="721.4" y="129.4" width="141.1" height="44.2" rx="3.5" ry="3.5" fill="#fff" stroke="#000" stroke-width="1.5"/>
<path d="M732.5,145.1H741.3M748.8,145.1H757.6M765.1,145.1H774.3" stroke="#000" stroke-width="3" stroke-linecap="round" fill="none"/>
<path d="M732.8,163H775.3" stroke="#000" stroke-width="5.6" stroke-linecap="round" fill="none"/>
<g font-family="Liberation Sans, sans-serif" fill="#050808" stroke="#050808" stroke-width="0.3" stroke-linejoin="round" style="font-kerning:none" text-rendering="geometricPrecision"><text transform="translate(785.84,149) scale(0.9967,1)" font-size="13.8" text-anchor="start" >: V</text>
<text transform="translate(802.36,151) scale(0.8929,1)" font-size="9.6" text-anchor="start" font-weight="bold" stroke="none">λ</text>
<text transform="translate(785.94,166) scale(0.9205,1)" font-size="13.8" text-anchor="start" >: ultra violet</text>
<text transform="translate(189.34,486) scale(1.048,1)" font-size="16.0" text-anchor="start" >0,0</text>
<text transform="translate(189.34,412) scale(1.0571,1)" font-size="16.0" text-anchor="start" >0,2</text>
<text transform="translate(189.35,338) scale(1.0403,1)" font-size="16.0" text-anchor="start" >0,4</text>
<text transform="translate(189.34,264) scale(1.0519,1)" font-size="16.0" text-anchor="start" >0,6</text>
<text transform="translate(189.34,190) scale(1.0515,1)" font-size="16.0" text-anchor="start" >0,8</text>
<text transform="translate(189.75,117) scale(1.0295,1)" font-size="16.0" text-anchor="start" >1,0</text>
<text transform="translate(202.95,500) scale(1.0607,1)" font-size="16.0" text-anchor="start" >250</text>
<text transform="translate(256.25,500) scale(1.0526,1)" font-size="16.0" text-anchor="start" >300</text>
<text transform="translate(309.34,500) scale(1.0526,1)" font-size="16.0" text-anchor="start" >350</text>
<text transform="translate(362.69,500) scale(1.0427,1)" font-size="16.0" text-anchor="start" >400</text>
<text transform="translate(415.79,500) scale(1.0427,1)" font-size="16.0" text-anchor="start" >450</text>
<text transform="translate(468.58,500) scale(1.0539,1)" font-size="16.0" text-anchor="start" >500</text>
<text transform="translate(521.68,500) scale(1.0539,1)" font-size="16.0" text-anchor="start" >550</text>
<text transform="translate(574.58,500) scale(1.0611,1)" font-size="16.0" text-anchor="start" >600</text>
<text transform="translate(627.67,500) scale(1.0611,1)" font-size="16.0" text-anchor="start" >650</text>
<text transform="translate(680.76,500) scale(1.0614,1)" font-size="16.0" text-anchor="start" >700</text>
<text transform="translate(733.85,500) scale(1.0614,1)" font-size="16.0" text-anchor="start" >750</text>
<text transform="translate(787.08,500) scale(1.0562,1)" font-size="16.0" text-anchor="start" >800</text>
<text transform="translate(840.17,500) scale(1.0562,1)" font-size="16.0" text-anchor="start" >850</text>
<text transform="translate(507.84,107) scale(0.9426,1)" font-size="15.0" text-anchor="start" fill="#b4b4b4" stroke="none">LZ4-04UVH0</text>
<text transform="translate(158.75,127) scale(1.0362,1)" font-size="16.6" text-anchor="start" font-family="Liberation Serif, serif" font-style="italic" stroke="#000" stroke-width="0.25">Φ</text>
<text transform="translate(170.15,130) scale(0.9538,1)" font-size="13.4" text-anchor="start" >rel</text>
<text transform="translate(835.97,524) scale(1.1991,1)" font-size="16.0" text-anchor="start" font-family="Liberation Serif, serif" font-style="italic" stroke="#000" stroke-width="0.2">λ</text>
<text transform="translate(847.9,524) scale(1.1023,1)" font-size="16.0" text-anchor="start" >/</text>
<text transform="translate(856.52,524) scale(1.1139,1)" font-size="16.0" text-anchor="start" >nm</text>
<text transform="translate(12.44,33) scale(0.9886,1)" font-size="26.6" text-anchor="start" font-weight="bold" fill="#1a536f" stroke="none">Relative</text>
<text transform="translate(121.16,33) scale(0.9675,1)" font-size="26.6" text-anchor="start" font-weight="bold" fill="#1a536f" stroke="none">Spectral</text>
<text transform="translate(230.53,33) scale(0.9379,1)" font-size="26.6" text-anchor="start" font-weight="bold" fill="#1a536f" stroke="none">Emission</text>
<text transform="translate(13.3,66) scale(1.039,1)" font-size="19.2" text-anchor="start" fill="#111" stroke="#111" stroke-width="0.2">Φ<tspan font-size="12" dy="6.8">rel</tspan><tspan dy="-6.8"> = f (λ); I</tspan><tspan font-size="12" dy="6.8">F</tspan><tspan dy="-6.8"> = 700 mA; T</tspan><tspan font-size="12" dy="6.8">C</tspan><tspan dy="-6.8"> = 25 °C</tspan></text></g>
</svg>
</body></html>
